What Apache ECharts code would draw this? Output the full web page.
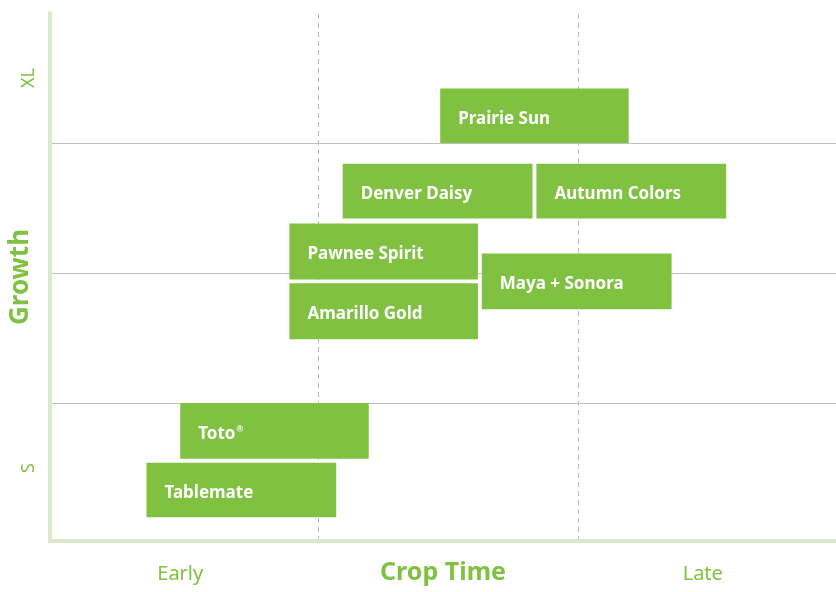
<!DOCTYPE html>
<html>
<head>
<meta charset="utf-8">
<script src="https://cdn.jsdelivr.net/npm/echarts@6/dist/echarts.min.js"></script>
<style>
  html, body { margin: 0; padding: 0; background: #fff; }
  #chart { width: 836px; height: 592px; }
</style>
</head>
<body>
<div id="chart"></div>
<script>
// varieties, crop time span (start/end) and growth span (low/high)
var names = ['Prairie Sun', 'Denver Daisy', 'Autumn Colors', 'Pawnee Spirit',
             'Amarillo Gold', 'Maya + Sonora', 'Toto®', 'Tablemate'];
var timeStart = [2.94, 2.19, 3.68, 1.78, 1.78, 3.26, 0.94, 0.68];
var timeEnd   = [4.39, 3.65, 5.14, 3.23, 3.23, 4.72, 2.39, 2.14];
var growthLow  = [3.00, 2.42, 2.42, 1.95, 1.49, 1.72, 0.57, 0.12];
var growthHigh = [3.42, 2.84, 2.84, 2.38, 1.92, 2.15, 1.00, 0.54];

var timeLabels = ['Early', 'Late'];
var timeLabelAt = [0.94, 4.96];
var timeLines = [2, 4];
var growthLabels = ['S', 'XL'];
var growthLabelAt = [0.5, 3.5];
var growthLines = [1, 2, 3];

var green = '#80c142';
var axisGreen = '#d8eac8';

var rows = names.map(function (n, i) {
    return [timeStart[i], timeEnd[i], growthLow[i], growthHigh[i], n];
});

var myChart = echarts.init(document.getElementById('chart'));
myChart.setOption({
    animation: false,
    grid: { left: 50, right: 0, top: 13, bottom: 51, outerBoundsMode: 'none', containLabel: false },
    xAxis: {
        type: 'value',
        min: -0.062,
        max: 5.985,
        name: 'Crop Time',
        nameLocation: 'middle',
        nameGap: 19,
        nameMoveOverlap: false,
        nameTextStyle: { color: green, fontFamily: 'Noto Sans', fontWeight: 'bold', fontSize: 25 },
        axisLine: { show: true, onZero: false, lineStyle: { color: axisGreen, width: 4 } },
        axisTick: { show: false, customValues: timeLines },
        axisLabel: {
            customValues: timeLabelAt,
            formatter: function (v) { return timeLabels[timeLabelAt.indexOf(v)]; },
            color: green,
            fontFamily: 'Noto Sans',
            fontSize: 20,
            margin: 23
        },
        splitLine: {
            show: true, customValues: timeLines,
            lineStyle: { color: '#b8b8b8', type: [5, 4], dashOffset: -1, width: 1 }
        }
    },
    yAxis: {
        type: 'value',
        min: -0.062,
        max: 4,
        name: 'Growth',
        nameLocation: 'middle',
        nameGap: 16,
        nameRotate: 90,
        nameMoveOverlap: false,
        nameTextStyle: { color: green, fontFamily: 'Noto Sans', fontWeight: 'bold', fontSize: 26 },
        axisLine: { show: true, onZero: false, lineStyle: { color: axisGreen, width: 4 } },
        axisTick: { show: false, customValues: growthLines },
        axisLabel: {
            customValues: growthLabelAt,
            formatter: function (v) { return growthLabels[growthLabelAt.indexOf(v)]; },
            rotate: 90,
            color: green,
            fontFamily: 'Noto Sans',
            fontSize: 18,
            margin: 12
        },
        splitLine: {
            show: true, customValues: growthLines,
            lineStyle: { color: '#c0c0c0', width: 1 }
        }
    },
    series: [{
        type: 'custom',
        data: rows,
        encode: { x: [0, 1], y: [2, 3] },
        renderItem: function (params, api) {
            var p0 = api.coord([api.value(0), api.value(3)]);
            var p1 = api.coord([api.value(1), api.value(2)]);
            var label = rows[params.dataIndex][4].replace('®', '{sup|®}');
            return {
                type: 'rect',
                shape: { x: p0[0], y: p0[1], width: p1[0] - p0[0], height: p1[1] - p0[1] },
                style: { fill: green },
                textContent: {
                    style: {
                        text: label,
                        fill: '#fff',
                        fontFamily: 'Noto Sans',
                        fontWeight: 'bold',
                        fontSize: 17,
                        rich: {
                            sup: { fontSize: 9, fontWeight: 'bold', fill: '#fff', padding: [0, 0, 9, 1] }
                        }
                    }
                },
                textConfig: { position: 'insideLeft', distance: 18, offset: [0, 3] }
            };
        }
    }]
});
</script>
</body>
</html>
